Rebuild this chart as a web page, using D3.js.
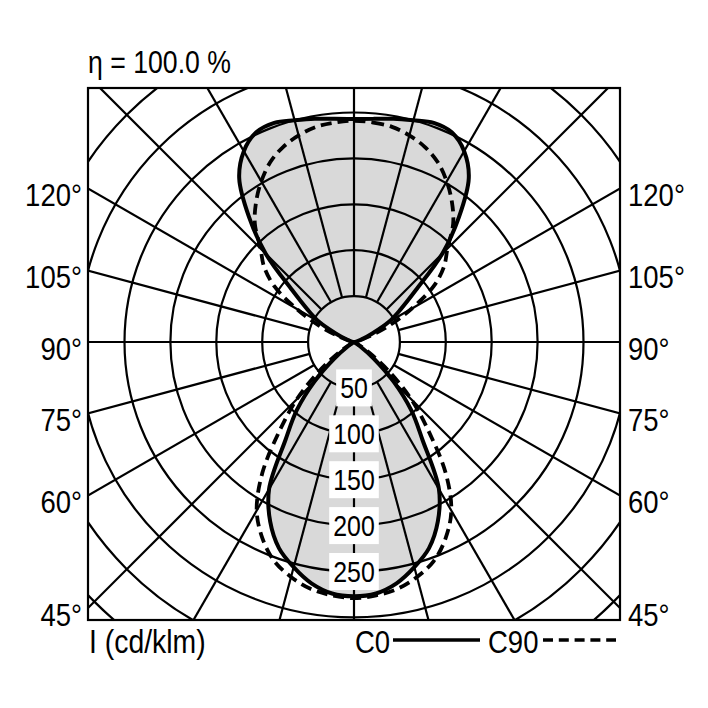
<!DOCTYPE html>
<html>
<head>
<meta charset="utf-8">
<script src="https://cdn.jsdelivr.net/npm/d3@7"></script>
<style>
  body { margin: 0; background: #fff; }
  svg text { font-family: "Liberation Sans", Arial, sans-serif; fill: #000; }
</style>
</head>
<body>
<div id="chart"></div>
<script>
// gamma angles (0 = straight down), cd/klm
const gamma = [0, 5, 10, 15, 20, 25, 30, 35, 40, 45, 50, 55, 60, 65, 70, 75, 80, 85, 90,
    95, 100, 105, 110, 115, 120, 125, 130, 135, 140, 145, 150, 155, 160, 165, 170, 175, 180];
const c0 = [277, 275, 267, 254, 239, 216, 185, 130, 97, 61, 28, 8, 1, 0, 0, 0, 0, 0, 0,
    0, 1, 4, 10, 22, 44, 62, 88, 136, 178, 218, 240, 252, 254, 250, 247, 244, 243];
const c90 = [279, 277, 273, 265, 254, 236, 212, 174, 126, 88, 50, 20, 5, 1, 0, 0, 0, 0, 0,
    0, 2, 6, 17, 42, 72, 106, 128, 144, 168, 186, 202, 216, 226, 233, 238, 240, 241];
const ringValues = [50, 100, 150, 200, 250, 300, 350, 400];
const ringLabels = [50, 100, 150, 200, 250];
const angleLabels = [45, 60, 75, 90, 105, 120];
const spokes = d3.range(0, 360, 15);

const width = 708, height = 708;
const cx = 354, cy = 342;
const frame = {x0: 88, y0: 88, x1: 620, y1: 620};
const narrow = 0.86; // squeeze Liberation Sans to look like a narrow face

const r = d3.scaleLinear().domain([0, 50]).range([0, 45.9]);

const svg = d3.select("#chart").append("svg")
    .attr("width", width)
    .attr("height", height);

function addText(parent, x, y, str, size, anchor) {
    return parent.append("text")
        .attr("transform", "translate(" + x + "," + y + ") scale(" + narrow + ",1)")
        .attr("text-anchor", anchor || "start")
        .style("font-size", size + "px")
        .text(str);
}

svg.append("defs").append("clipPath")
    .attr("id", "frameClip")
    .append("rect")
    .attr("x", frame.x0).attr("y", frame.y0)
    .attr("width", frame.x1 - frame.x0).attr("height", frame.y1 - frame.y0);

const plot = svg.append("g").attr("clip-path", "url(#frameClip)");
const g = plot.append("g").attr("transform", "translate(" + cx + "," + cy + ")");

// full closed curve: right half (gamma 180 -> 0) then left half (gamma 0 -> 180)
function fullCurve(values) {
    const pts = [];
    for (let i = gamma.length - 1; i > 0; i--) pts.push([Math.PI - gamma[i] * Math.PI / 180, values[i]]);
    for (let i = 0; i < gamma.length - 1; i++) pts.push([Math.PI + gamma[i] * Math.PI / 180, values[i]]);
    return pts;
}

const line = d3.lineRadial()
    .angle(d => d[0])
    .radius(d => r(d[1]))
    .curve(d3.curveCatmullRomClosed.alpha(0.5));

// grey fill of C0
g.append("path")
    .attr("d", line(fullCurve(c0)))
    .attr("fill", "#d9d9d9")
    .attr("stroke", "none");

// rings
g.selectAll("circle.ring")
    .data(ringValues)
    .enter()
    .append("circle")
    .attr("class", "ring")
    .attr("r", d => r(d))
    .attr("fill", "none")
    .attr("stroke", "#000")
    .attr("stroke-width", 2.2);

// spokes from first ring outwards
g.selectAll("line.spoke")
    .data(spokes)
    .enter()
    .append("line")
    .attr("class", "spoke")
    .attr("x1", d => r(50) * Math.sin(d * Math.PI / 180))
    .attr("y1", d => r(50) * Math.cos(d * Math.PI / 180))
    .attr("x2", d => r(450) * Math.sin(d * Math.PI / 180))
    .attr("y2", d => r(450) * Math.cos(d * Math.PI / 180))
    .attr("stroke", "#000")
    .attr("stroke-width", 2.2);

// curves
g.append("path")
    .attr("d", line(fullCurve(c90)))
    .attr("fill", "none")
    .attr("stroke", "#000")
    .attr("stroke-width", 3.8)
    .attr("stroke-dasharray", "11,6");

g.append("path")
    .attr("d", line(fullCurve(c0)))
    .attr("fill", "none")
    .attr("stroke", "#000")
    .attr("stroke-width", 4);

// ring labels on the downward axis
const rl = g.selectAll("g.rlabel")
    .data(ringLabels)
    .enter()
    .append("g")
    .attr("class", "rlabel")
    .attr("transform", d => "translate(0," + r(d) + ")");

rl.append("rect").attr("fill", "#fff");
rl.each(function (d) {
    const grp = d3.select(this);
    const t = addText(grp, 0, 10.5, d, 29, "middle");
    const w = t.node().getComputedTextLength() * narrow + 8;
    grp.select("rect")
        .attr("x", -w / 2).attr("y", -18.5)
        .attr("width", w).attr("height", 37);
});

// frame
svg.append("rect")
    .attr("x", frame.x0).attr("y", frame.y0)
    .attr("width", frame.x1 - frame.x0).attr("height", frame.y1 - frame.y0)
    .attr("fill", "none")
    .attr("stroke", "#000")
    .attr("stroke-width", 2.2);

// angle labels where the spokes meet the side edges
const edge = frame.x1 - cx;
const yAt = a => cy + edge / Math.tan(a * Math.PI / 180);

angleLabels.forEach(a => {
    addText(svg, frame.x0 - 6, yAt(a) + 17.5, a + "°", 32, "end");
    addText(svg, frame.x1 + 8, yAt(a) + 17.5, a + "°", 32, "start");
});

// title and bottom texts
addText(svg, 88, 73, "η = 100.0 %", 31);
addText(svg, 89, 653, "I (cd/klm)", 33);

// legend
addText(svg, 355, 653, "C0", 32);
svg.append("line")
    .attr("x1", 393).attr("x2", 480)
    .attr("y1", 640).attr("y2", 640)
    .attr("stroke", "#000").attr("stroke-width", 3.6);
addText(svg, 488, 653, "C90", 32);
svg.append("line")
    .attr("x1", 543).attr("x2", 616)
    .attr("y1", 640).attr("y2", 640)
    .attr("stroke", "#000").attr("stroke-width", 3.6)
    .attr("stroke-dasharray", "10,5.8");
</script>
</body>
</html>
